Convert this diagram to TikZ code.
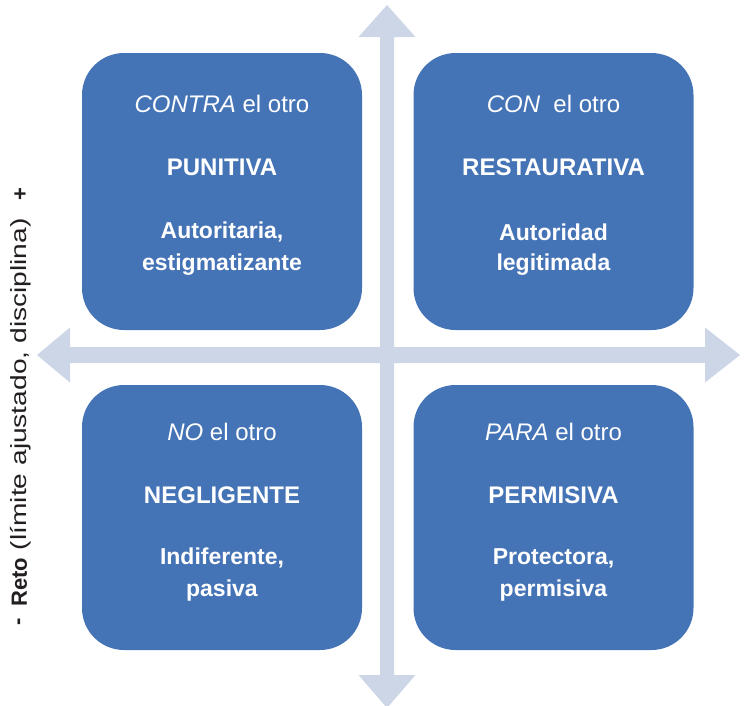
\documentclass[tikz,border=0pt]{standalone}
\usepackage{fontspec}
\setmainfont{Liberation Sans}
\definecolor{boxblue}{HTML}{4574B6}
\definecolor{arrowc}{HTML}{CDD6E7}
\definecolor{labelc}{HTML}{231F20}
\begin{document}
\begin{tikzpicture}[x=1pt,y=-1pt,
  quad/.style={fill=boxblue, rounded corners=42pt, inner sep=0pt, minimum width=280pt},
  txt/.style={text=white, font=\fontsize{23}{27}\selectfont, anchor=center, inner sep=0pt},
  captxt/.style={txt, font=\fontsize{24}{28}\selectfont},
  axlab/.style={text=labelc, rotate=90, font=\fontsize{22}{26}\selectfont, inner sep=0pt}]
\useasboundingbox (0,0) rectangle (747,705);
% axes
\fill[arrowc] (380,37) -- (358.5,37) -- (387,5) -- (415.5,37) -- (394,37) -- (394,675) -- (415.5,675) -- (387,708) -- (358.5,675) -- (380,675) -- cycle;
\fill[arrowc] (70,347) -- (70,327.5) -- (37,355) -- (70,382.5) -- (70,363) -- (705,363) -- (705,382.5) -- (740,355) -- (705,327.5) -- (705,347) -- cycle;
% boxes
\node[quad, minimum height=277pt] (tl) at (222,191.5) {};
\node[quad, minimum height=277pt] (tr) at (553.5,191.5) {};
\node[quad, minimum height=265pt] (bl) at (222,517.5) {};
\node[quad, minimum height=265pt] (br) at (553.5,517.5) {};
% texts
\node[captxt] (tl1) at (222,104) {\textit{CONTRA} el otro};
\node[captxt] (tl2) at (222,167) {\textbf{PUNITIVA}};
\node[txt] (tl3) at (222,232) {\textbf{Autoritaria,}};
\node[txt] (tl4) at (222,265) {\textbf{estigmatizante}};
\node[captxt] (tr1) at (553.5,104) {\textit{CON}\ \ el otro};
\node[captxt] (tr2) at (553.5,167) {\textbf{RESTAURATIVA}};
\node[txt] (tr3) at (553.5,232) {\textbf{Autoridad}};
\node[txt] (tr4) at (553.5,265) {\textbf{legitimada}};
\node[captxt] (bl1) at (222,432) {\textit{NO} el otro};
\node[captxt] (bl2) at (222,495) {\textbf{NEGLIGENTE}};
\node[txt] (bl3) at (222,558) {\textbf{Indiferente,}};
\node[txt] (bl4) at (222,591) {\textbf{pasiva}};
\node[captxt] (br1) at (553.5,432) {\textit{PARA} el otro};
\node[captxt] (br2) at (553.5,495) {\textbf{PERMISIVA}};
\node[txt] (br3) at (553.5,558) {\textbf{Protectora,}};
\node[txt] (br4) at (553.5,591) {\textbf{permisiva}};
% vertical axis label
\node[axlab, anchor=center] (minus) at (21,622) {\textbf{-}};
\node[axlab, anchor=west] (lab) at (21,607) {\textbf{Reto}\scalebox{1.28}[1]{ (límite ajustado, disciplina)}};
\node[axlab, anchor=center] (plus) at (21,194) {\textbf{+}};
\end{tikzpicture}
\end{document}
